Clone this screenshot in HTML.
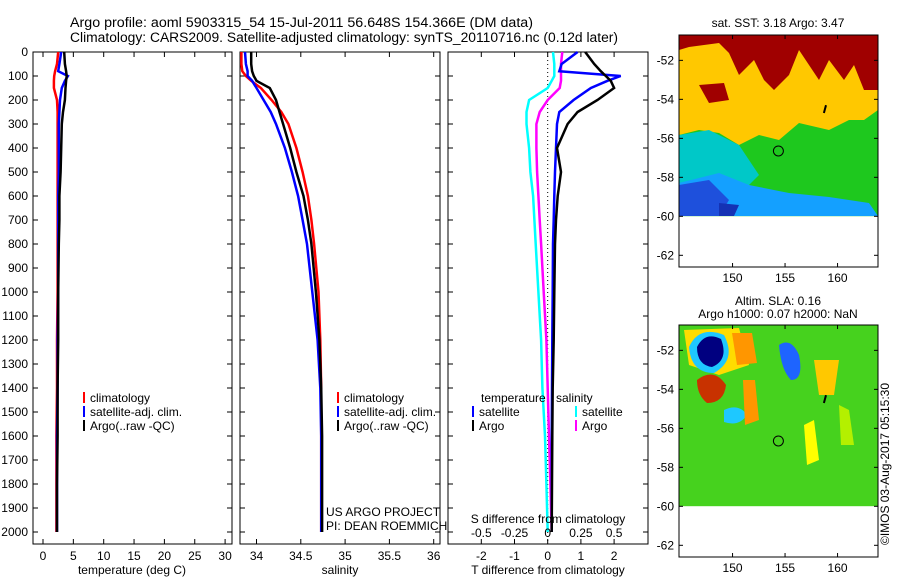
<!DOCTYPE html>
<html><head><meta charset="utf-8"><style>
html,body{margin:0;padding:0;background:#fff;}
svg{display:block;font-family:"Liberation Sans",sans-serif;}
text{font-size:12px;fill:#000;}
</style></head><body>
<svg id="fig" width="900" height="580" viewBox="0 0 900 580" xmlns="http://www.w3.org/2000/svg">
<text x="70" y="27" textLength="463" lengthAdjust="spacingAndGlyphs" style="font-size:13.5px">Argo profile: aoml 5903315_54 15-Jul-2011 56.648S 154.366E (DM data)</text>
<text x="70" y="42" textLength="548" lengthAdjust="spacingAndGlyphs" style="font-size:13.5px">Climatology: CARS2009. Satellite-adjusted climatology: synTS_20110716.nc (0.12d later)</text>
<g id="g"></g>
<text transform="translate(889,545) rotate(-90)" textLength="162" lengthAdjust="spacingAndGlyphs" style="font-size:12px">©IMOS 03-Aug-2017 05:15:30</text>
</svg>
<script>
// ---- data ----
const pres = [0,50,80,100,120,150,200,250,300,400,500,600,700,800,1000,1200,1400,1600,1800,2000];
const tempClim = [2.5,2.3,2.0,1.85,1.8,1.8,2.3,2.4,2.4,2.4,2.4,2.4,2.4,2.4,2.4,2.3,2.3,2.2,2.2,2.2];
const tempSat  = [3.0,2.7,2.5,4.1,3.6,3.1,2.8,2.7,2.6,2.6,2.6,2.5,2.5,2.5,2.5,2.4,2.4,2.3,2.3,2.3];
const tempArgo = [3.5,3.6,3.8,3.9,3.8,3.7,3.6,3.3,3.1,3.0,2.9,2.7,2.7,2.6,2.5,2.5,2.4,2.4,2.3,2.3];
const salClim = [33.83,33.83,33.84,33.88,33.94,34.05,34.17,34.28,34.36,34.45,34.52,34.58,34.62,34.65,34.70,34.72,34.73,34.73,34.73,34.73];
const salSat  = [33.87,33.88,33.9,33.9,33.95,34.0,34.08,34.16,34.22,34.32,34.40,34.47,34.52,34.57,34.63,34.69,34.72,34.73,34.73,34.73];
const salArgo = [33.94,33.94,33.95,33.97,34.0,34.15,34.22,34.26,34.30,34.38,34.45,34.53,34.58,34.62,34.67,34.71,34.73,34.74,34.74,34.74];
const dTsat  = [0.9,0.42,0.35,2.2,1.8,1.3,0.78,0.35,0.28,0.25,0.22,0.2,0.18,0.16,0.15,0.14,0.13,0.12,0.12,0.12];
const dTargo = [1.13,1.4,1.6,1.75,1.9,2.0,1.5,0.9,0.6,0.28,0.4,0.3,0.25,0.22,0.2,0.18,0.15,0.14,0.13,0.12];
const dSsat  = [0.04,0.05,0.05,0.05,0.03,0.0,-0.14,-0.16,-0.16,-0.14,-0.13,-0.11,-0.1,-0.09,-0.07,-0.05,-0.04,-0.02,-0.01,0.0];
const dSargo = [0.11,0.1,0.1,0.1,0.1,0.09,0.0,-0.06,-0.085,-0.085,-0.08,-0.07,-0.06,-0.05,-0.03,-0.01,0.0,0.01,0.02,0.03];
const presTicks = [0,100,200,300,400,500,600,700,800,900,1000,1100,1200,1300,1400,1500,1600,1700,1800,1900,2000];
const tempTicks = [0,5,10,15,20,25,30];
const salTicks = [34,34.5,35,35.5,36];
const dTTicks = [-2,-1,0,1,2];
const dSLabels = ['-0.5','-0.25','0','0.25','0.5'];
const lonTicks = [150,155,160];
const latTicks = [-52,-54,-56,-58,-60,-62];

const NS="http://www.w3.org/2000/svg", G=document.getElementById('g');
function el(t,a,p){const e=document.createElementNS(NS,t);for(const k in a)e.setAttribute(k,a[k]);(p||G).appendChild(e);return e;}
const TOP=52, BOT=544;
const Y = p => 52 + p*0.24;

function frame(x0,x1,y0,y1,name){
  const r=el('rect',{x:x0,y:y0,width:x1-x0,height:y1-y0,fill:'none',stroke:'#000','stroke-width':1});
  
  
}
function xticks(vals,labels,X,y0,y1,name,ly){
  vals.forEach((v,i)=>{const x=X(v);
    el('line',{x1:x,x2:x,y1:y1,y2:y1-5,stroke:'#000'});
    el('line',{x1:x,x2:x,y1:y0,y2:y0+5,stroke:'#000'});
    const t=el('text',{x:x,y:ly||y1+16,'text-anchor':'middle'});t.textContent=labels[i];
    
    
  });
}
function yticks(x0,x1,labels){
  presTicks.forEach(p=>{const y=Y(p);
    el('line',{x1:x0,x2:x0+5,y1:y,y2:y,stroke:'#000'});
    el('line',{x1:x1,x2:x1-5,y1:y,y2:y,stroke:'#000'});
    if(labels){const t=el('text',{x:x0-5,y:y+4,'text-anchor':'end'});t.textContent=p;
      
      }
  });
}
function line(vals,X,color,name,w){
  const d=vals.map((v,i)=>(i?'L':'M')+X(v).toFixed(1)+','+Y(pres[i]).toFixed(1)).join('');
  const p=el('path',{d:d,fill:'none',stroke:color,'stroke-width':w||2.5});
  
  
}
function txt(x,y,s,name,anchor){const t=el('text',{x:x,y:y,'text-anchor':anchor||'start'});t.textContent=s;
  
  return t;}
function legItem(x,y,color,s,name){
  el('line',{x1:x,x2:x,y1:y-10,y2:y+1,stroke:color,'stroke-width':2});
  txt(x+6,y,s,name);
}

// Panel 1 temperature
const XT=v=>43+v*6.07;
frame(33,232,TOP,BOT,'temperature-axes');
yticks(33,232,true);
xticks(tempTicks,tempTicks.map(String),XT,TOP,BOT,'temperature',560);
line(tempClim,XT,'#f00','climatology-temperature-line');
line(tempSat,XT,'#00f','satellite-temperature-line');
line(tempArgo,XT,'#000','argo-temperature-line');
txt(132,574,'temperature (deg C)','temperature-axis-title','middle');
legItem(84,402,'#f00','climatology','legend-climatology');
legItem(84,416,'#00f','satellite-adj. clim.','legend-satellite');
legItem(84,430,'#000','Argo(..raw -QC)','legend-argo');

// Panel 2 salinity
const XS=v=>256.5+(v-34)*88.6;
frame(240,440,TOP,BOT,'salinity-axes');
yticks(240,440,false);
xticks(salTicks,['34','34.5','35','35.5','36'],XS,TOP,BOT,'salinity',560);
line(salClim,XS,'#f00','climatology-salinity-line');
line(salSat,XS,'#00f','satellite-salinity-line');
line(salArgo,XS,'#000','argo-salinity-line');
txt(340,574,'salinity','salinity-axis-title','middle');
legItem(338,402,'#f00','climatology','legend2-climatology');
legItem(338,416,'#00f','satellite-adj. clim.','legend2-satellite');
legItem(338,430,'#000','Argo(..raw -QC)','legend2-argo');
txt(326,516,'US ARGO PROJECT','project-label');
txt(326,530,'PI: DEAN ROEMMICH','pi-label');

// Panel 3 differences
const XD=v=>547.7+v*33.2, XDS=v=>547.7+v*132.8;
frame(448,648,TOP,BOT,'difference-axes');
yticks(448,648,false);
xticks(dTTicks,dTTicks.map(String),XD,TOP,BOT,'t-difference',560);
el('line',{x1:547.7,x2:547.7,y1:TOP,y2:BOT,stroke:'#000','stroke-dasharray':'1,3'});
line(dSsat,XDS,'#0ff','satellite-salinity-difference-line');
line(dSargo,XDS,'#f0f','argo-salinity-difference-line');
line(dTsat,XD,'#00f','satellite-temperature-difference-line');
line(dTargo,XD,'#000','argo-temperature-difference-line');
dSLabels.forEach((s,i)=>{txt(XD(dTTicks[i]),537,s,'s-difference-tick-label','middle');});
txt(548,574,'T difference from climatology','t-difference-axis-title','middle');
txt(548,523,'S difference from climatology','s-difference-axis-title','middle');
txt(481,402,'temperature','legend3-temperature-header');
txt(556,402,'salinity','legend3-salinity-header');
legItem(473,416,'#00f','satellite','legend3-t-satellite');
legItem(473,430,'#000','Argo','legend3-t-argo');
legItem(576,416,'#0ff','satellite','legend3-s-satellite');
legItem(576,430,'#f0f','Argo','legend3-s-argo');

// Maps
function map(top,bot,name,title1,title2,bg,shapes){
  const LX=v=>679+(v-144.9)*10.5, LY=v=>top+(-50.7-v)*((bot-top)/11.9);
  const b=el('rect',{x:679,y:top,width:199,height:LY(-60)-top,fill:bg});
  
  
  shapes.forEach(s=>{const p=el('path',{d:s[0],fill:s[1],transform:'translate(679,'+top+')'});
    
    });
  el('rect',{x:679,y:LY(-60),width:199,height:bot-LY(-60),fill:'#fff'});
  frame(679,878,top,bot,name+'-frame');
  lonTicks.forEach(v=>{const x=LX(v);el('line',{x1:x,x2:x,y1:top,y2:top+4,stroke:'#000'});el('line',{x1:x,x2:x,y1:bot,y2:bot-4,stroke:'#000'});
    txt(x,bot+15,String(v),name+'-lon-label','middle');});
  latTicks.forEach(v=>{const y=LY(v);el('line',{x1:679,x2:683,y1:y,y2:y,stroke:'#000'});el('line',{x1:878,x2:874,y1:y,y2:y,stroke:'#000'});
    txt(674,y+4,String(v),name+'-lat-label','end');});
  const c=el('circle',{cx:LX(154.366),cy:LY(-56.648),r:5,fill:'none',stroke:'#000'});
  
  
  el('line',{x1:LX(158.7),y1:LY(-54.7),x2:LX(158.9),y2:LY(-54.3),stroke:'#000','stroke-width':2});
  txt(778,top-(title2?20:8),title1,name+'-title','middle');
  if(title2) txt(778,top-7,title2,name+'-subtitle','middle');
}
map(35,267,'sst-map','sat. SST: 3.18  Argo: 3.47',null,'#1ec81e',[
 ['M0,0H199V75L185,85L170,85L150,95L120,88L100,105L80,100L60,110L40,98L20,95L0,100Z','#ffc800'],
 ['M0,0H199V55L185,55L175,30L165,45L150,25L140,45L120,15L110,40L95,55L85,45L75,25L60,40L50,18L40,8L10,12L0,15Z','#a00000'],
 ['M20,50L45,48L50,65L30,68Z','#a00000'],
 ['M0,100L30,95L60,110L80,140L60,160L80,181H0Z','#00c8c8'],
 ['M0,148L40,138L70,150L110,158L150,162L190,168L199,181H0Z','#14a0ff'],
 ['M0,150L30,145L50,165L40,181H0Z','#1e50dc'],
 ['M40,168L60,170L55,181H40Z','#1432b4']
]);
map(325,557,'sla-map','Altim. SLA: 0.16','Argo h1000: 0.07 h2000: NaN','#46d21e',[
 ['M5,5L60,3L70,40L40,50L10,40Z','#ffdc00'],
 ['M10,22Q20,0 45,10Q58,35 35,48Q12,48 10,22Z','#1ec8ff'],
 ['M18,22Q26,6 42,14Q50,35 33,42Q18,40 18,22Z','#000080'],
 ['M53,8L73,8L78,38L58,40Z','#ff9600'],
 ['M18,55Q35,42 47,60Q45,78 28,78Q18,70 18,55Z','#c83200'],
 ['M45,85Q60,78 68,90Q60,102 45,97Z','#1ec8ff'],
 ['M64,55L76,55L80,95L66,100Z','#ff9600'],
 ['M100,20Q112,12 120,30Q125,55 112,55Q102,45 100,20Z','#1e64ff'],
 ['M135,35L160,35L155,70L140,70Z','#ffc800'],
 ['M125,100L135,95L140,135L128,140Z','#ffff00'],
 ['M160,80L170,85L175,120L162,120Z','#b4f000']
]);
</script>
</body></html>
